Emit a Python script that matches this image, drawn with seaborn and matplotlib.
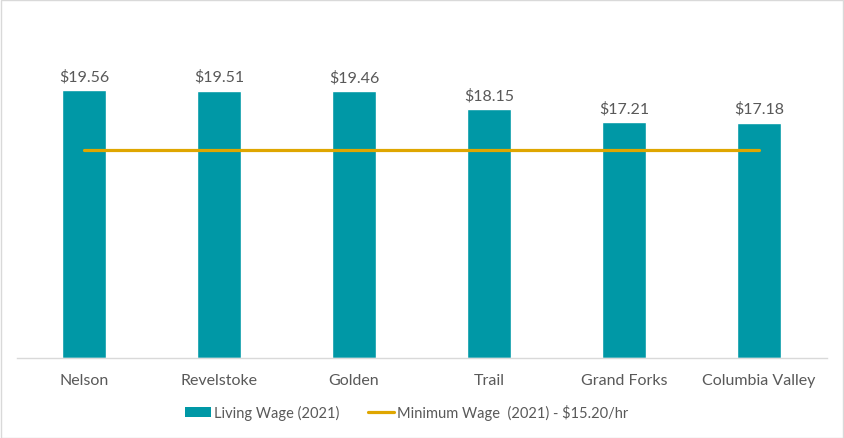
import matplotlib
matplotlib.use("Agg")
import matplotlib.pyplot as plt
import seaborn as sns
import pandas as pd
from matplotlib.patches import Patch
from matplotlib.lines import Line2D

communities = ["Nelson", "Revelstoke", "Golden", "Trail", "Grand Forks", "Columbia Valley"]
living_wage = [19.56, 19.51, 19.46, 18.15, 17.21, 17.18]
minimum_wage = [15.20, 15.20, 15.20, 15.20, 15.20, 15.20]
value_labels = ["$19.56", "$19.51", "$19.46", "$18.15", "$17.21", "$17.18"]

TEAL = "#0098A6"
GOLD = "#DFA600"
TXT = "#595959"

sns.set_theme(style="white")
plt.rcParams["font.family"] = ["Lato", "DejaVu Sans"]

df = pd.DataFrame({"Community": communities, "Living": living_wage, "Minimum": minimum_wage})

fig = plt.figure(figsize=(8.44, 4.39), dpi=100)
ax = fig.add_axes([16.5 / 844, (439 - 359) / 439, (826.5 - 16.5) / 844, (359 - 16.5) / 439])

sns.barplot(data=df, x="Community", y="Living", color=TEAL, width=0.32, ax=ax, saturation=1)
sns.lineplot(data=df, x="Community", y="Minimum", color=GOLD, linewidth=2.3, ax=ax, sort=False)

for i, (v, lab) in enumerate(zip(living_wage, value_labels)):
    ax.text(i, v + 0.5, lab, ha="center", va="bottom", fontsize=11.5, color=TXT)

ax.set_ylim(0, 25)
ax.set_xlim(-0.5, len(communities) - 0.5)
ax.set_xlabel("")
ax.set_ylabel("")
ax.set_yticks([])
ax.tick_params(axis="x", length=0, pad=11, labelsize=11.5, labelcolor=TXT)
for s in ["top", "right", "left"]:
    ax.spines[s].set_visible(False)
ax.spines["bottom"].set_color("#D9D9D9")
ax.spines["bottom"].set_linewidth(1)

handles = [Patch(facecolor=TEAL, edgecolor="none"),
           Line2D([0], [0], color=GOLD, linewidth=2.3)]
labels = ["Living Wage (2021)", "Minimum Wage  (2021) - $15.20/hr"]
fig.legend(handles, labels, loc="center", bbox_to_anchor=(406.5 / 844, 1 - 413 / 439),
           ncol=2, frameon=False, fontsize=10.5, labelcolor=TXT,
           handlelength=1.8, handleheight=0.65, handletextpad=0.15, columnspacing=2.0)

fig.add_artist(plt.Rectangle((0.0006, 0.001), 0.9985, 0.997, transform=fig.transFigure,
                             fill=False, edgecolor="#D9D9D9", linewidth=1))

fig.savefig("out.png", dpi=100, facecolor="white")
